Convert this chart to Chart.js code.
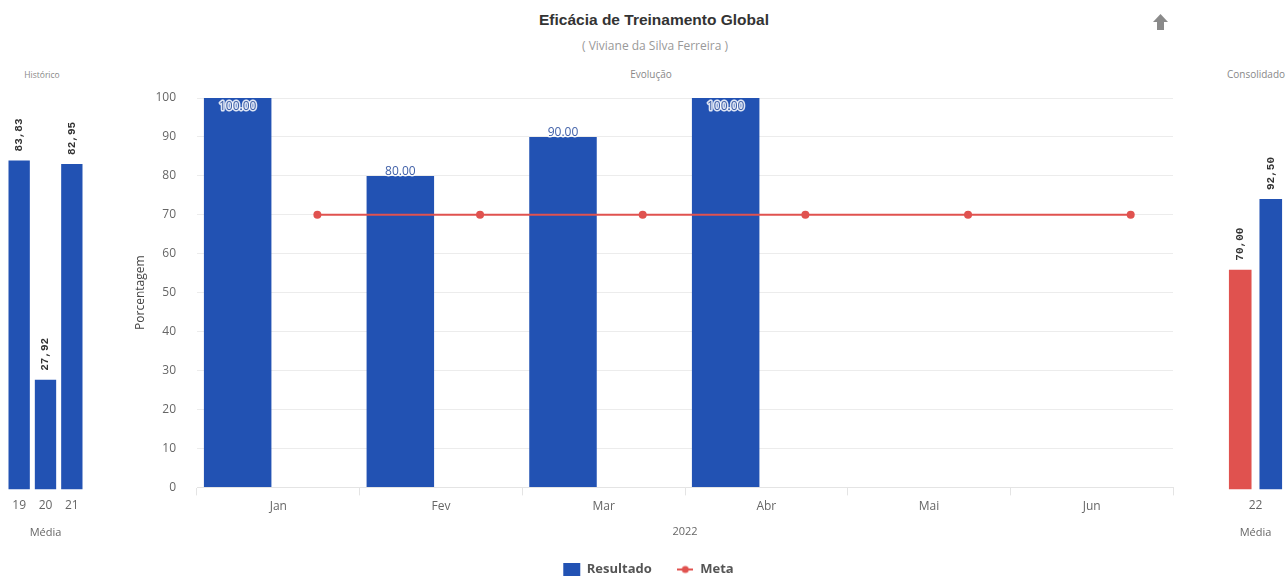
<!DOCTYPE html>
<html><head><meta charset="utf-8">
<script src="https://cdn.jsdelivr.net/npm/chart.js@4.4.1/dist/chart.umd.min.js"></script>
<style>
body{margin:0;width:1288px;height:580px;background:#fff;overflow:hidden;position:relative;font-family:"Open Sans",sans-serif}
.abs{position:absolute}
#title{left:404px;width:500px;top:11px;text-align:center;font:bold 15.5px "Liberation Sans",Arial,sans-serif;color:#333}
#sub{left:505px;width:300px;top:37px;text-align:center;font:12px "Open Sans",sans-serif;color:#999}
.pt{top:67px;text-align:center;font:10px "Open Sans",sans-serif;color:#888}
.box{position:absolute;top:0;height:580px}
</style></head>
<body>
<div id="title" class="abs">Eficácia de Treinamento Global</div>
<div id="sub" class="abs">( Viviane da Silva Ferreira )</div>
<div class="abs pt" style="left:2px;width:80px;font-size:8.5px;top:69px">Histórico</div>
<div class="abs pt" style="left:611px;width:80px">Evolução</div>
<div class="abs pt" style="left:1216px;width:80px">Consolidado</div>
<svg class="abs" style="left:1152px;top:13px" width="17" height="19" viewBox="0 0 17 19">
  <polygon points="8.5,1 16,9 12,9 12,17 5,17 5,9 1,9" fill="#8a8a8a"/>
</svg>
<div class="box" style="left:0;width:92px"><canvas id="cHist"></canvas></div>
<div class="box" style="left:120px;width:1060px"><canvas id="cMain"></canvas></div>
<div class="box" style="left:1200px;width:88px"><canvas id="cCons"></canvas></div>
<script>
// ---- data ----
const histLabels = ['19', '20', '21'];
const histValues = [83.83, 27.92, 82.95];
const months = ['Jan', 'Fev', 'Mar', 'Abr', 'Mai', 'Jun'];
const resultadoValues = [100, 80, 90, 100, null, null];
const metaValues = [70, 70, 70, 70, 70, 70];
const consLabels = ['22'];
const consMeta = [70];
const consResultado = [92.5];

// ---- styles ----
const BLUE = '#2252b3';
const RED = '#e0524f';
const TICK = '#666';
const META_OFFSET = 0.24;

Chart.defaults.font.family = '"Open Sans", sans-serif';
Chart.defaults.animation = false;

const sideLabels = {
  id: 'sideLabels',
  afterDatasetsDraw(chart) {
    const ctx = chart.ctx;
    chart.data.datasets.forEach((ds, di) => {
      const meta = chart.getDatasetMeta(di);
      meta.data.forEach((bar, i) => {
        const v = ds.data[i];
        if (v == null) return;
        ctx.save();
        ctx.translate(bar.x, bar.y - 9);
        ctx.rotate(-Math.PI / 2);
        ctx.font = 'bold 11px "Liberation Mono", monospace';
        ctx.fillStyle = '#333';
        ctx.textAlign = 'left';
        ctx.textBaseline = 'middle';
        ctx.fillText(v.toFixed(2).replace('.', ','), 0, 0);
        ctx.restore();
      });
    });
  }
};

const midLabels = {
  id: 'midLabels',
  afterDatasetsDraw(chart) {
    const ctx = chart.ctx;
    const ds = chart.data.datasets[0];
    const meta = chart.getDatasetMeta(0);
    meta.data.forEach((bar, i) => {
      const v = ds.data[i];
      if (v == null) return;
      const y = Math.max(bar.y - 4, chart.chartArea.top + 9);
      ctx.save();
      ctx.font = '12px "Open Sans", sans-serif';
      ctx.textAlign = 'center';
      ctx.textBaseline = 'middle';
      ctx.lineJoin = 'round';
      ctx.lineWidth = 3;
      ctx.strokeStyle = 'rgba(255,255,255,0.85)';
      const t = v.toFixed(2);
      ctx.strokeText(t, bar.x, y);
      ctx.fillStyle = '#4060a8';
      ctx.fillText(t, bar.x, y);
      ctx.restore();
    });
  }
};

function sideXAxis() {
  return {
    grid: {display: false, drawTicks: false},
    border: {display: false},
    ticks: {color: TICK, font: {size: 12}, padding: 9},
    title: {display: true, text: 'Média', color: TICK, font: {size: 11}, padding: {top: 4, bottom: 4}}
  };
}

// Histórico
new Chart(document.getElementById('cHist'), {
  type: 'bar',
  data: {labels: histLabels, datasets: [{label: 'Média', data: histValues, backgroundColor: BLUE,
    categoryPercentage: 0.9, barPercentage: 0.9}]},
  options: {
    responsive: true, maintainAspectRatio: false,
    layout: {padding: {top: 97, left: 6, right: 7, bottom: 37}},
    plugins: {legend: {display: false}, tooltip: {enabled: false}},
    scales: {x: sideXAxis(), y: {display: false, min: 0, max: 100}}
  },
  plugins: [sideLabels]
});

// Consolidado
new Chart(document.getElementById('cCons'), {
  type: 'bar',
  data: {labels: consLabels, datasets: [
    {label: 'Meta', data: consMeta, backgroundColor: RED, categoryPercentage: 0.94, barPercentage: 0.74},
    {label: 'Resultado', data: consResultado, backgroundColor: BLUE, categoryPercentage: 0.94, barPercentage: 0.74}
  ]},
  options: {
    responsive: true, maintainAspectRatio: false,
    layout: {padding: {top: 97, left: 23, right: 0, bottom: 37}},
    plugins: {legend: {display: false}, tooltip: {enabled: false}},
    scales: {x: sideXAxis(), y: {display: false, min: 0, max: 125}}
  },
  plugins: [sideLabels]
});

// Evolução
function metaMarker() {
  const c = document.createElement('canvas');
  c.width = 16; c.height = 10;
  const g = c.getContext('2d');
  g.strokeStyle = RED; g.lineWidth = 2;
  g.beginPath(); g.moveTo(0, 5); g.lineTo(16, 5); g.stroke();
  g.fillStyle = RED; g.beginPath(); g.arc(8, 5, 3.5, 0, Math.PI * 2); g.fill();
  return c;
}
const metaImg = metaMarker();

new Chart(document.getElementById('cMain'), {
  type: 'bar',
  data: {
    labels: months,
    datasets: [
      {label: 'Resultado', data: resultadoValues, backgroundColor: BLUE, order: 2,
        categoryPercentage: 1.0, barPercentage: 0.83, xAxisID: 'x'},
      {type: 'line', label: 'Meta', data: metaValues.map((v, i) => ({x: i + META_OFFSET, y: v})),
        xAxisID: 'x2', borderColor: RED, backgroundColor: RED, borderWidth: 2,
        pointRadius: 4, pointBackgroundColor: RED, pointBorderWidth: 0, order: 0}
    ]
  },
  options: {
    responsive: true, maintainAspectRatio: false,
    layout: {padding: {top: 98, left: 4, right: 7, bottom: -6}},
    plugins: {
      tooltip: {enabled: false},
      legend: {
        position: 'bottom',
        labels: {
          usePointStyle: true, pointStyleWidth: 17, boxHeight: 13,
          color: '#555', font: {size: 13, weight: 'bold'}, padding: 25,
          sort: (a, b) => a.datasetIndex - b.datasetIndex,
          generateLabels(chart) {
            const items = Chart.defaults.plugins.legend.labels.generateLabels(chart);
            items.forEach(it => {
              if (it.text === 'Meta') { it.pointStyle = metaImg; }
              else { it.pointStyle = 'rect'; it.lineWidth = 0; }
            });
            return items;
          }
        }
      }
    },
    scales: {
      x: {
        grid: {display: true, drawOnChartArea: false, tickLength: 8, color: '#e4e4e4'},
        border: {color: '#e4e4e4'},
        ticks: {color: TICK, font: {size: 12}, padding: 4},
        title: {display: true, text: '2022', color: TICK, font: {size: 11}, padding: {top: 7, bottom: 0}}
      },
      x2: {type: 'linear', display: false, offset: false, grid: {offset: false},
        min: -0.5, max: months.length - 0.5},
      y: {
        min: 0, max: 100,
        afterFit(scale) { scale.width = 73; },
        ticks: {stepSize: 10, color: TICK, font: {size: 12}, padding: 21},
        grid: {color: '#ececec', drawTicks: false},
        border: {display: false},
        title: {display: true, text: 'Porcentagem', color: '#444', font: {size: 12}, padding: {top: 9, bottom: 9}}
      }
    }
  },
  plugins: [midLabels]
});
</script>
</body></html>
